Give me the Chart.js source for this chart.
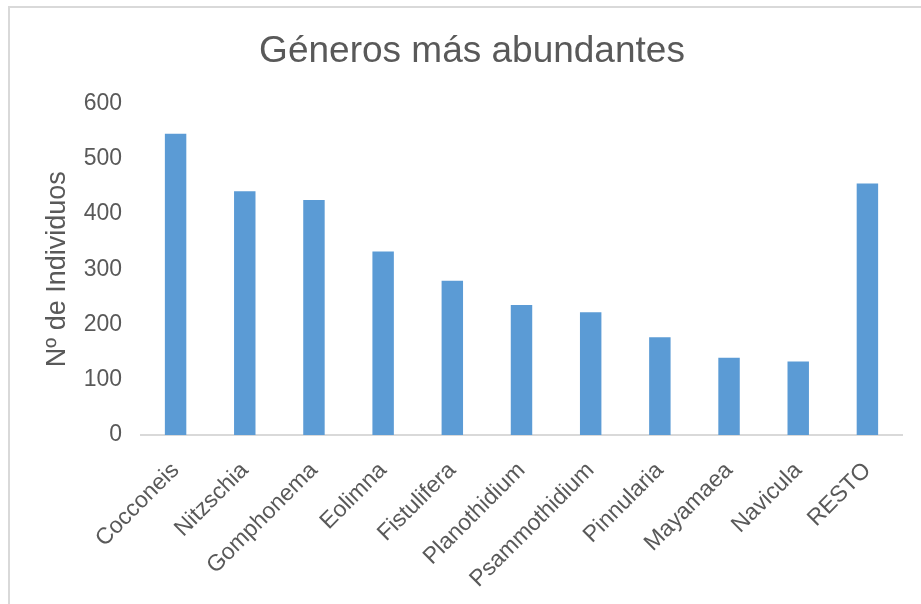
<!DOCTYPE html>
<html>
<head>
<meta charset="utf-8">
<script src="https://cdn.jsdelivr.net/npm/chart.js@4"></script>
<style>
  html, body { margin: 0; padding: 0; background: #fff; }
  #wrap { position: relative; width: 921px; height: 604px; overflow: hidden; }
  #frame { position: absolute; left: 8px; top: 6px; width: 1000px; height: 700px;
           border-left: 2px solid #d9d9d9; border-top: 2px solid #d9d9d9; }
  canvas { position: absolute; left: 0; top: 0; }
</style>
</head>
<body>
<div id="wrap">
  <div id="frame"></div>
  <canvas id="barChart" width="921" height="604"></canvas>
</div>
<script>
// Data
const generos = ['Cocconeis', 'Nitzschia', 'Gomphonema', 'Eolimna', 'Fistulifera',
  'Planothidium', 'Psammothidium', 'Pinnularia', 'Mayamaea', 'Navicula', 'RESTO'];
const individuos = [545, 441, 425, 332, 279, 235, 222, 177, 140, 133, 455];
const yTicks = [0, 100, 200, 300, 400, 500, 600];

const textColor = '#595959';
const fontFamily = '"Liberation Sans", Arial, sans-serif';

// Create bar chart
function createBarChart() {
  const ctx = document.getElementById('barChart');

  window.barChartInstance = new Chart(ctx, {
    type: 'bar',
    data: {
      labels: generos,
      datasets: [{
        label: 'Nº de Individuos',
        data: individuos,
        backgroundColor: '#5b9bd5',
        barPercentage: 0.31,
        categoryPercentage: 1
      }]
    },
    options: {
      responsive: false,
      animation: false,
      layout: {
        // left padding keeps the title centred where Excel put it
        padding: { left: 42, right: 19, top: 0, bottom: 0 }
      },
      scales: {
        x: {
          grid: { display: false },
          border: { display: true, color: '#d9d9d9', width: 2 },
          ticks: {
            autoSkip: false,
            minRotation: 45,
            maxRotation: 45,
            padding: 14,
            color: textColor,
            font: { family: fontFamily, size: 23 }
          },
          afterFit: function(scale) {
            scale.height = 169;
          }
        },
        y: {
          min: yTicks[0],
          max: yTicks[yTicks.length - 1],
          grid: { display: false },
          border: { display: false },
          afterBuildTicks: function(scale) {
            scale.ticks = yTicks.map(v => ({ value: v }));
          },
          ticks: {
            padding: 11,
            color: textColor,
            font: { family: fontFamily, size: 23 }
          },
          title: {
            display: true,
            text: 'Nº de Individuos',
            color: textColor,
            font: { family: fontFamily, size: 27 },
            padding: { top: -1, bottom: 0 }
          },
          afterFit: function(scale) {
            scale.width = 99;
          }
        }
      },
      plugins: {
        legend: { display: false },
        tooltip: { enabled: false },
        title: {
          display: true,
          text: 'Géneros más abundantes',
          color: textColor,
          font: { family: fontFamily, size: 37, weight: 'normal' },
          padding: { top: 30, bottom: 29 }
        }
      }
    }
  });
}

createBarChart();
</script>
</body>
</html>
